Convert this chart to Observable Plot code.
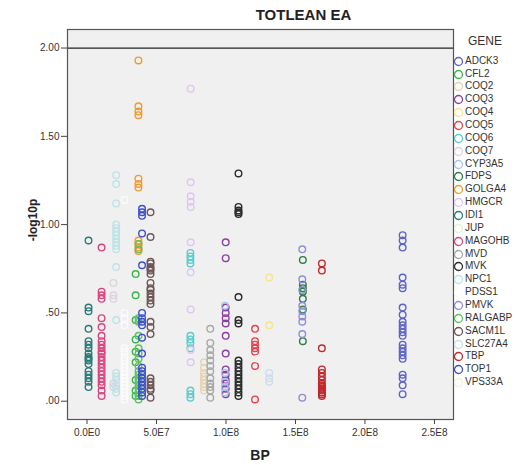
<!DOCTYPE html>
<html>
<head>
<meta charset="utf-8">
<script src="https://cdn.jsdelivr.net/npm/d3@7"></script>
<script src="https://cdn.jsdelivr.net/npm/@observablehq/plot@0.6"></script>
<style>
  html, body { margin: 0; padding: 0; background: #ffffff; }
  #wrap { position: relative; width: 517px; height: 465px; font-family: "Liberation Sans", Arial, sans-serif; color: #333; }
  .abs { position: absolute; white-space: nowrap; }
  #title { left: 0; width: 607px; top: 6px; text-align: center; font-weight: bold; font-size: 15px; color: #222; }
  #xlab { left: 240px; width: 40px; top: 447px; text-align: center; font-weight: bold; font-size: 14px; color: #222; }
  #ylab { left: 33px; top: 220px; transform: translate(-50%, -50%) rotate(-90deg); font-weight: bold; font-size: 12px; color: #222; }
  #legtitle { left: 468px; top: 34px; font-size: 12px; color: #333; }
  .legitem { position: absolute; left: 453px; height: 12px; font-size: 10px; line-height: 12px; color: #333; }
  .legitem svg { position: absolute; left: 0; top: 1px; }
  .legitem span { position: absolute; left: 12px; top: 0; }
</style>
</head>
<body>
<div id="wrap">
  <div id="chart" class="abs" style="left:0;top:0"></div>
  <div id="title" class="abs">TOTLEAN EA</div>
  <div id="xlab" class="abs">BP</div>
  <div id="ylab" class="abs">-log10p</div>
  <div id="legtitle" class="abs">GENE</div>
  <div id="legend"></div>
</div>
<script>
// Gene names (legend order) and colours
const genes = ["ADCK3","CFL2","COQ2","COQ3","COQ4","COQ5","COQ6","COQ7","CYP3A5","FDPS","GOLGA4","HMGCR","IDI1","JUP","MAGOHB","MVD","MVK","NPC1","PDSS1","PMVK","RALGABP","SACM1L","SLC27A4","TBP","TOP1","VPS33A"];
const geneColors = ["#5c64c8","#3ab54a","#e6d3b0","#8a3fa0","#f3e68c","#e8404c","#5ccccc","#ddd3e0","#a9c6e8","#2f7a4b","#f09a30","#e2c4f2","#2b7a78","#e4f2d8","#d9457f","#a8a8a8","#2a2a2a","#bde3e8","#fbfbfb","#8e8ed6","#5cc45c","#6e5656","#cfdced","#c0282c","#3d4fd0","#f2f0e2"];
// Base-pair position of each gene (same order)
const geneBP = [2.271e8,3.5e7,8.42e7,9.98e7,1.311e8,1.209e8,7.44e7,1.9e7,9.92e7,1.553e8,3.70e7,7.46e7,1.1e6,3.99e7,1.05e7,8.87e7,1.09e8,2.1e7,2.7e7,1.549e8,3.71e7,4.57e7,1.311e8,1.69e8,3.96e7,1.227e8];

// -log10p values per gene
const ADCK3 = [.94,.91,.87,.70,.66,.64,.53,.49,.45,.43,.41,.39,.37,.32,.30,.28,.26,.24,.15,.13,.09,.04];
const CFL2 = [.72,.60,.46,.35,.28,.22,.12,.06,.03];
const COQ2 = [.22,.19,.16,.14,.12,.10,.08,.06];
const COQ3 = [.90,.81,.53,.50,.47,.44,.37,.27,.18,.15,.12,.10,.07,.04];
const COQ4 = [.70,.43];
const COQ5 = [.41,.34,.32,.30,.28,.20,.01];
const COQ6 = [.84,.82,.80,.78,.37,.35,.33,.30,.06,.04,.02];
const COQ7 = [.67,.60,.58,.10,.08];
const CYP3A5 = [.54,.16,.11,.08,.05];
const FDPS = [.80,.66,.64,.62,.58,.52,.34];
const GOLGA4 = [1.93,1.67,1.64,1.62,1.26,1.23,1.21,.91,.89,.87,.85];
const HMGCR = [1.77,1.24,1.16,1.13,1.10,.90,.73,.52,.29,.22];
const IDI1 = [.91,.53,.51,.41,.34,.32,.30,.27,.25,.24,.23,.21,.17,.15,.13,.11,.08];
const JUP = [.55,.32,.20];
const MAGOHB = [.87,.62,.60,.58,.47,.42,.37,.34,.32,.30,.28,.27,.25,.23,.21,.19,.17,.15,.13,.11,.09,.06,.03];
const MVD = [.41,.33,.29,.26,.23,.20,.17,.13,.10,.08,.06,.02];
const MVK = [1.29,1.10,1.08,1.07,1.06,.59,.46,.44,.23,.21,.19,.17,.15,.13,.11,.09,.07,.05,.03];
const NPC1 = [1.28,1.23,1.12,1.00,.98,.96,.94,.92,.90,.88,.86,.76,.46,.16,.14,.12,.09,.07,.05];
const PDSS1 = [1.14,.50,.47,.43,.30,.28,.25,.23,.21,.19,.17,.15,.13,.11,.09,.07,.05,.03,.01];
const PMVK = [.86,.69,.63,.54,.51,.48,.45,.38,.02];
const RALGABP = [.89,.86,.47,.45,.37,.30,.27,.24,.20,.17,.15,.13,.11,.09,.07,.05,.03,.01];
const SACM1L = [1.07,.93,.79,.78,.76,.75,.74,.72,.67,.64,.63,.61,.59,.57,.55,.45,.42,.38,.13,.11,.09,.07,.06,.02];
const SLC27A4 = [.16,.13,.11];
const TBP = [.78,.74,.30,.18,.16,.14,.12,.10,.09,.08,.07,.06,.05,.04,.03];
const TOP1 = [1.09,1.07,1.05,.95,.77,.50,.47,.45,.43,.36,.27,.19,.17,.15,.13,.11,.09,.07,.05,.03];
const VPS33A = [.24,.15,.12,.08];

const yTicks = [0, 0.5, 1, 1.5, 2];
const xTicks = [0, 5e7, 1e8, 1.5e8, 2e8, 2.5e8];

const series = {ADCK3,CFL2,COQ2,COQ3,COQ4,COQ5,COQ6,COQ7,CYP3A5,FDPS,GOLGA4,HMGCR,IDI1,JUP,MAGOHB,MVD,MVK,NPC1,PDSS1,PMVK,RALGABP,SACM1L,SLC27A4,TBP,TOP1,VPS33A};
const data = [];
genes.forEach((g, i) => {
  series[g].forEach(p => data.push({gene: g, bp: geneBP[i], p}));
});

const fmtY = d => d3.format(".2f")(d).replace(/^0/, "");
const fmtX = d => d.toExponential(1).replace("e+", "E");

const chart = Plot.plot({
  width: 517,
  height: 465,
  marginLeft: 67,
  marginRight: 64,
  marginTop: 29,
  marginBottom: 46,
  style: {fontFamily: "'Liberation Sans', Arial, sans-serif", fontSize: "10px", color: "#333", background: "transparent"},
  x: {domain: [-1.403e7, 2.637e8]},
  y: {domain: [-0.1036, 2.105]},
  color: {domain: genes, range: geneColors},
  marks: [
    Plot.frame({fill: "#f0f0f0", stroke: "none"}),
    Plot.ruleY([2], {stroke: "#222", strokeWidth: 1.2}),
    Plot.dot(data, {x: "bp", y: "p", stroke: "gene", r: 3.3, strokeWidth: 1.4, fill: "none"}),
    Plot.frame({stroke: "#555", strokeWidth: 1.2}),
    Plot.axisY(yTicks, {tickFormat: fmtY, tickSize: 6, tickPadding: 2, label: null, stroke: "#444"}),
    Plot.axisX(xTicks, {tickFormat: fmtX, tickSize: 5, tickPadding: 4, label: null, stroke: "#444"})
  ]
});
document.getElementById("chart").appendChild(chart);

// Legend
const leg = document.getElementById("legend");
genes.forEach((g, i) => {
  const div = document.createElement("div");
  div.className = "legitem abs";
  div.style.top = (54.7 + i * 12.86) + "px";
  div.innerHTML = `<svg width="11" height="11"><circle cx="5.5" cy="5.5" r="4" fill="none" stroke="${geneColors[i]}" stroke-width="1.3"/></svg><span>${g}</span>`;
  leg.appendChild(div);
});
</script>
</body>
</html>
